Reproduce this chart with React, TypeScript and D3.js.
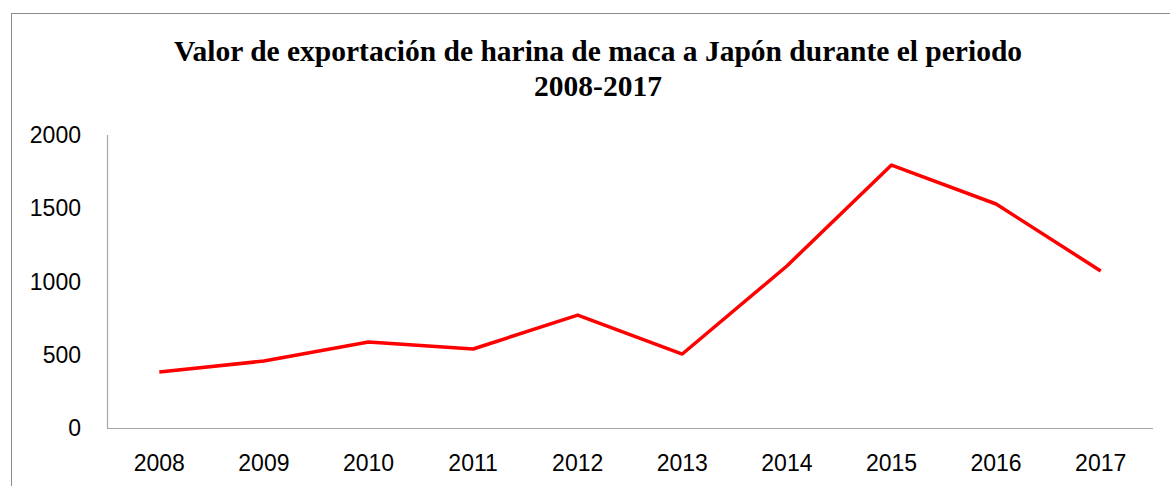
import { useEffect, useRef } from "react";
import * as d3 from "d3";

// chart data
const years = ["2008", "2009", "2010", "2011", "2012", "2013", "2014", "2015", "2016", "2017"];
const values = [382, 457, 587, 539, 771, 505, 1106, 1795, 1529, 1072];
const yTicks = [0, 500, 1000, 1500, 2000];
const titleLines = [
  "Valor de exportación de harina de maca a Japón durante el periodo",
  "2008-2017",
];

const W = 1170;
const H = 486;

export default function App() {
  const ref = useRef<SVGSVGElement | null>(null);

  useEffect(() => {
    const svg = d3.select(ref.current);
    svg.selectAll("*").remove();

    const left = 107;
    const right = 1153;
    const top = 135;
    const bottom = 428;

    // outer chart frame (runs off the right and bottom edges)
    svg
      .append("rect")
      .attr("x", 11.5)
      .attr("y", 13.5)
      .attr("width", 1300)
      .attr("height", 600)
      .attr("fill", "none")
      .attr("stroke", "#8c8c8c")
      .attr("stroke-width", 1);

    const title = svg
      .append("text")
      .attr("text-anchor", "middle")
      .attr("font-family", "'Liberation Serif', 'Times New Roman', serif")
      .attr("font-weight", "bold")
      .attr("font-size", 29.5)
      .attr("fill", "#000");
    titleLines.forEach((t, i) => {
      title
        .append("tspan")
        .attr("x", 598)
        .attr("y", 61 + i * 35)
        .text(t);
    });

    const x = d3.scaleBand().domain(years).range([left, right]);
    const y = d3.scaleLinear().domain([0, 2000]).range([bottom, top]);

    // axes lines
    svg
      .append("line")
      .attr("x1", left + 0.5)
      .attr("x2", left + 0.5)
      .attr("y1", top)
      .attr("y2", bottom)
      .attr("stroke", "#a6a6a6")
      .attr("stroke-width", 1.2);
    svg
      .append("line")
      .attr("x1", left)
      .attr("x2", right)
      .attr("y1", bottom + 0.5)
      .attr("y2", bottom + 0.5)
      .attr("stroke", "#a6a6a6")
      .attr("stroke-width", 1.2);

    const font = "'Liberation Sans', Arial, sans-serif";

    svg
      .append("g")
      .selectAll("text")
      .data(yTicks)
      .join("text")
      .attr("x", 81)
      .attr("y", (d) => y(d))
      .attr("dy", "0.35em")
      .attr("text-anchor", "end")
      .attr("font-family", font)
      .attr("font-size", 23)
      .attr("fill", "#000")
      .text((d) => d);

    svg
      .append("g")
      .selectAll("text")
      .data(years)
      .join("text")
      .attr("x", (d) => (x(d) ?? 0) + x.bandwidth() / 2)
      .attr("y", 471)
      .attr("text-anchor", "middle")
      .attr("font-family", font)
      .attr("font-size", 23)
      .attr("fill", "#000")
      .text((d) => d);

    const line = d3
      .line<number>()
      .x((_, i) => (x(years[i]) ?? 0) + x.bandwidth() / 2)
      .y((d) => y(d));

    svg
      .append("path")
      .datum(values)
      .attr("d", line)
      .attr("fill", "none")
      .attr("stroke", "#ff0000")
      .attr("stroke-width", 3.5)
      .attr("stroke-linejoin", "round");
  }, []);

  return (
    <svg
      ref={ref}
      width={W}
      height={H}
      style={{ position: "absolute", left: 0, top: 0, background: "#fff" }}
    />
  );
}
